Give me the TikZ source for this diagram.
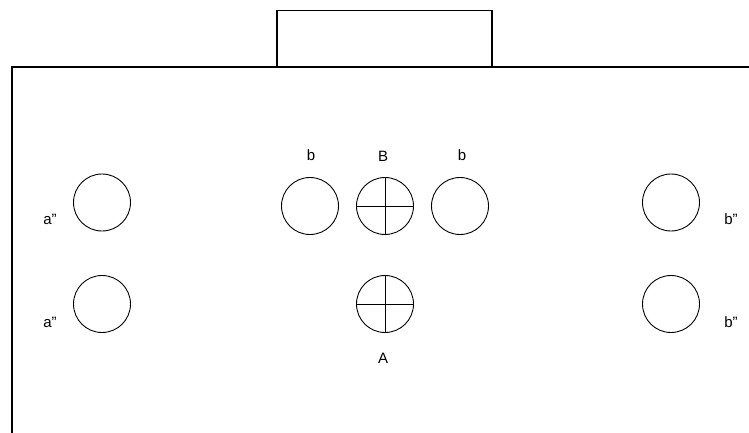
\documentclass[tikz,border=0pt]{standalone}
\usepackage{fontspec}
\setmainfont{Liberation Sans}
\begin{document}
\begin{tikzpicture}[x=1pt,y=-1pt,
  hole/.style={circle,draw,line width=0.9pt,minimum size=57pt,inner sep=0pt},
  lbl/.style={font=\fontsize{15}{17}\selectfont,inner sep=0pt}]
\useasboundingbox (0,0) rectangle (749,433);
% frame
\draw[line width=1.3pt] (12,433) -- (12,67) -- (749,67);
\draw[line width=1.3pt] (277,67) -- (277,10.5) -- (492,10.5) -- (492,67);
% holes
\node[hole] (a1) at (102,202.5) {};
\node[hole] (a2) at (102,304) {};
\node[hole] (bl) at (310,206) {};
\node[hole] (B) at (385,206) {};
\node[hole] (br) at (460,206) {};
\node[hole] (A) at (385,304) {};
\node[hole] (b1) at (671,202.5) {};
\node[hole] (b2) at (671,304) {};
% crosses
\draw[line width=0.9pt] (B.north) -- (B.south) (B.west) -- (B.east);
\draw[line width=0.9pt] (A.north) -- (A.south) (A.west) -- (A.east);
% labels
\node[lbl] (la1) at (50,219) {a\symbol{34}};
\node[lbl] (la2) at (50,322) {a\symbol{34}};
\node[lbl] (lbl1) at (311,155) {b};
\node[lbl] (lB) at (383,156) {B};
\node[lbl] (lbr) at (462,155) {b};
\node[lbl] (lA) at (383,358) {A};
\node[lbl] (lb1) at (731,219) {b\symbol{34}};
\node[lbl] (lb2) at (731,322) {b\symbol{34}};
\end{tikzpicture}
\end{document}
